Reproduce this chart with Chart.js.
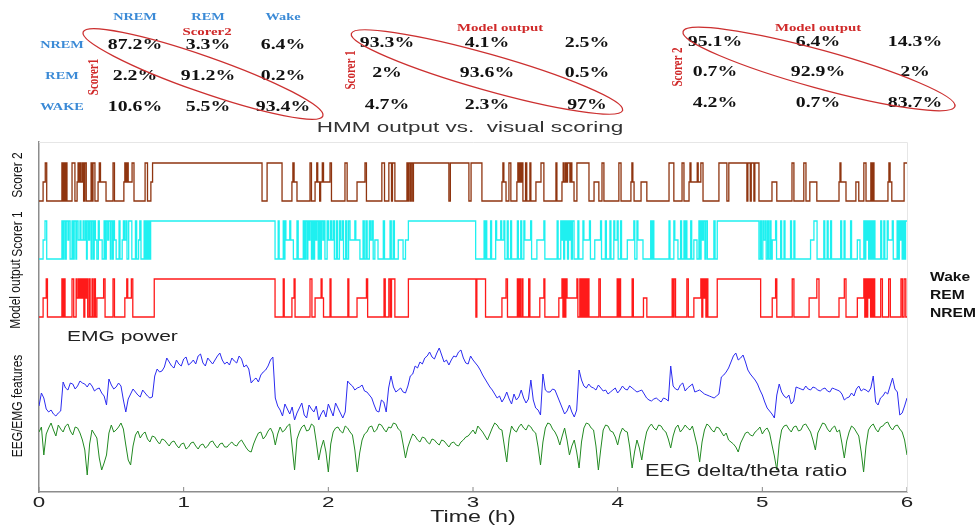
<!DOCTYPE html>
<html lang="en">
<head>
<meta charset="UTF-8">
<title>HMM output vs. visual scoring</title>
<script src="https://cdn.jsdelivr.net/npm/chart.js@4.4.1/dist/chart.umd.min.js"></script>
<style>
  body { margin: 0; background: #fff; }
  #wrap { width: 979px; height: 525px; }
</style>
</head>
<body>
<div id="wrap"><canvas id="myChart"></canvas></div>
<script>
// x axis ticks (hours)
const hourTicks = [0, 1, 2, 3, 4, 5, 6];
const stageNames = ['NREM', 'REM', 'Wake'];

// agreement tables, %  (rows NREM/REM/Wake)
const scorer1VsScorer2 = [[87.2, 3.3, 6.4], [2.2, 91.2, 0.2], [10.6, 5.5, 93.4]];
const scorer1VsModel = [[93.3, 4.1, 2.5], [2, 93.6, 0.5], [4.7, 2.3, 97]];
const scorer2VsModel = [[95.1, 6.4, 14.3], [0.7, 92.9, 2], [4.2, 0.7, 83.7]];

// hypnograms: [start minute, stage]  0 = NREM, 1 = REM, 2 = Wake
const scorer2Stages = [
  [0,0],[1.7,1],[2.6,2],[3.2,0],[9.5,2],[10.0,0],[10.3,2],[10.8,0],[11.1,2],[11.6,0],
  [13.7,2],[14.9,0],[15.8,1],[16.2,2],[16.6,1],[17.1,2],[17.5,1],[18.1,2],[18.5,0],[19.0,2],[19.6,0],
  [21.6,2],[22.1,0],[22.4,2],[23.2,0],[24.5,1],[25.0,2],[25.5,1],[27.8,0],[30.7,2],[31.3,0],
  [35.2,1],[35.6,2],[36.0,1],[36.5,2],[37.0,1],[38.6,2],[39.4,0],[44.0,2],[45.0,0],[46.4,1],[47.1,2],
  [92.5,0],[94.6,2],[100.8,0],[104.9,1],[105.3,2],[105.8,1],[107.0,0],[112.4,2],[113.0,0],
  [114.5,1],[115.2,2],[115.6,1],[116.4,0],[116.8,1],[117.5,2],[118.0,1],[120.7,2],[121.3,0],
  [126.9,2],[127.8,0],[131.9,1],[135.2,2],[135.8,0],[142.2,2],[143.3,0],[145.1,2],[146.2,0],[146.6,2],[147.6,0],
  [152.6,2],[153.0,0],[153.4,2],[154.0,0],[154.4,2],[155.0,0],[155.3,2],
  [170.0,0],[170.6,2],[178.3,0],[179.2,2],[183.7,0],
  [192.0,1],[192.4,2],[192.8,1],[193.7,0],[194.9,2],[195.7,0],
  [198.2,1],[198.6,2],[199.0,1],[199.4,2],[199.8,1],[200.3,2],[200.7,0],[201.8,2],[202.3,0],[203.6,2],[204.0,0],
  [206.1,1],[208.2,2],[209.4,0],[214.4,2],[214.8,0],
  [216.9,1],[217.4,2],[217.8,1],[218.4,2],[218.8,1],[219.2,2],[220.2,1],[220.6,2],[221.0,1],[221.9,0],
  [223.1,2],[228.1,0],[230.2,1],[232.2,0],[233.5,2],[234.3,0],[240.5,2],[241.4,0],
  [245.5,1],[245.9,2],[246.3,1],[246.8,0],[249.7,1],[252.1,0],[261.3,2],[263.3,0],
  [266.7,2],[267.5,0],[269.6,1],[270.0,2],[270.4,1],[273.0,2],[273.4,1],[274.5,2],[275.4,0],
  [282.0,2],[285.3,0],[286.1,2],[293.6,0],[294.0,2],[295.0,0],[295.4,2],[296.5,0],[296.9,2],[298.6,0],
  [304.0,1],[306.0,0],[312.3,2],[313.1,0],[317.2,2],[318.1,0],[319.7,1],[322.6,0],
  [331.8,1],[332.2,2],[332.6,1],[334.7,0],[338.8,1],[340.0,0],[342.1,2],[343.0,0],
  [345.0,2],[345.5,0],[345.8,2],[346.3,0],[352.1,1],[352.5,2],[353.0,1],[353.7,0],[358.8,2],[360,2]
];

const scorer1Stages = [
  [0,0],[1.7,1],[2.5,2],[3.2,0],[9.5,2],[10.0,0],[10.4,2],[11.0,0],[11.3,2],[12.0,1],[12.3,2],[12.9,0],
  [13.7,2],[14.2,0],[14.6,2],[15.3,0],[15.6,2],[16.2,1],[17.0,2],[17.4,1],[18.3,2],[18.7,1],[19.3,2],
  [19.7,0],[20.0,2],[20.6,1],[21.0,2],[21.6,0],[22.0,2],[22.6,0],[22.9,2],[23.4,1],
  [24.0,0],[24.6,2],[25.0,1],[26.2,0],[27.0,2],[27.5,0],[27.9,2],[28.5,1],[28.9,2],[29.6,0],[29.9,2],[30.5,0],[30.8,2],[31.3,1],
  [32.0,0],[33.2,2],[33.6,0],[34.5,1],[35.0,2],[35.4,1],[36.0,2],[36.5,0],[37.2,2],[38.5,0],[40.0,2],[40.5,0],[41.3,1],[41.8,2],[42.3,0],
  [43.6,2],[44.1,0],[44.5,2],[45.0,0],[45.4,2],[45.9,0],[46.3,2],
  [97.9,0],[99.2,2],[99.6,0],[101.3,2],[101.7,0],[102.0,2],[102.4,1],[104.0,2],[104.4,1],[105.5,0],[107.0,2],[107.5,0],
  [109.6,2],[110.1,0],[110.5,2],[111.1,0],[111.5,2],[112.0,1],[112.4,2],[113.0,0],[113.3,2],[113.8,0],[114.3,2],[114.8,1],
  [115.2,2],[115.8,0],[116.2,2],[116.7,0],[117.1,2],[117.7,1],[118.1,2],[118.6,0],
  [119.5,2],[120.0,1],[120.8,2],[121.3,1],[122.0,2],[122.5,0],[123.3,2],[123.8,0],[124.6,2],[125.1,1],[125.8,2],[126.3,0],
  [127.2,2],[127.7,0],[128.4,2],[129.0,1],[131.0,2],[131.4,1],[133.1,0],[134.4,2],[134.9,0],[135.6,2],[136.1,0],
  [137.0,2],[137.5,1],[138.1,2],[138.6,0],[139.3,1],[140.6,0],[142.8,2],[143.3,0],[145.6,2],[146.1,0],[146.9,2],[147.4,0],
  [149.0,1],[151.0,0],[152.0,1],[153.2,2],
  [181.1,0],[184.6,2],[185.0,0],[185.3,2],[185.7,0],[187.3,2],[187.7,0],[189.4,2],[189.8,1],[191.5,2],[191.9,1],
  [192.8,2],[193.2,0],[194.2,2],[194.6,0],[195.6,2],[196.0,0],[198.4,2],[198.8,0],[199.8,2],[200.2,0],[201.1,2],[201.5,1],
  [203.9,2],[204.3,0],[206.5,1],[209.4,2],[209.8,0],[214.9,2],[215.3,0],
  [216.4,2],[216.8,1],[217.2,2],[217.6,0],[218.0,2],[218.4,1],[218.8,2],[219.2,0],[219.6,2],[220.0,1],[220.4,2],[220.8,0],[221.2,2],[221.9,0],
  [223.5,2],[223.9,0],[225.6,2],[226.0,1],[228.3,2],[228.7,0],[230.5,1],[232.9,2],[233.3,0],[234.9,2],[235.3,0],
  [236.8,2],[237.2,0],[238.4,2],[238.8,1],[239.8,2],[240.2,0],[241.2,2],[241.6,0],[244.0,1],[246.7,2],[247.1,0],
  [248.0,2],[248.4,1],[250.5,0],[253.7,2],[254.1,0],[254.5,2],[255.0,0],[261.3,2],[261.7,0],[263.3,2],[263.7,1],[265.0,0],
  [266.1,2],[266.5,0],[267.5,2],[267.9,0],[268.3,2],[268.7,0],[270.3,2],[270.7,0],[271.6,1],[272.9,0],
  [273.7,2],[274.1,0],[274.6,2],[275.1,1],[275.6,2],[276.2,0],[276.6,2],[277.2,0],[279.9,2],[280.4,0],[281.3,2],
  [298.6,0],[299.2,2],[299.6,0],[300.2,2],[300.6,1],[301.2,2],[301.6,0],[302.2,2],[302.6,0],[303.2,2],[303.6,0],[304.1,1],
  [305.5,2],[305.9,0],[307.6,2],[308.0,0],[309.0,2],[309.4,0],[311.7,2],[312.1,0],[313.1,2],[313.5,0],[320.0,1],[321.4,2],[322.7,0],
  [325.5,2],[325.9,0],[326.9,2],[327.3,0],[328.3,2],[328.7,0],[332.5,2],[332.9,0],[333.9,2],[334.3,0],[336.6,2],[337.0,0],
  [339.4,1],[340.5,0],[342.1,2],[342.5,0],[342.9,2],[343.3,1],[343.7,2],[344.1,0],[344.5,2],[344.9,0],[345.3,2],[345.8,0],
  [346.3,2],[346.7,0],[349.1,2],[349.5,0],[350.4,2],[350.8,0],[351.8,2],[352.2,1],[353.9,2],[354.3,0],
  [355.9,2],[356.3,0],[356.8,2],[357.2,1],[357.6,2],[358.0,0],[358.5,2],[358.9,0],[359.4,2],[360,2]
];

const modelStages = [
  [0,0],[1.7,1],[3.0,2],[3.5,0],[9.5,2],[10.0,0],[10.3,2],[10.8,0],
  [13.7,2],[14.4,0],[15.4,2],[15.8,1],[16.4,2],[16.8,1],[17.3,2],[17.7,1],[18.2,2],[18.6,0],[19.0,2],[19.4,1],
  [19.8,2],[20.2,0],[20.8,2],[21.2,0],[22.0,2],[22.4,0],[23.0,2],[23.4,0],
  [24.0,1],[26.8,2],[27.4,0],[30.7,2],[31.3,0],[35.6,1],[36.4,2],[36.8,1],[38.3,2],[38.9,0],[47.8,2],
  [97.9,0],[101.3,2],[101.7,0],[104.9,1],[105.8,2],[106.2,0],[112.4,2],[113.2,0],[114.5,1],[117.0,2],[117.4,1],[118.0,0],
  [120.7,2],[121.1,0],[128.1,2],[128.5,0],[131.9,1],[135.8,2],[136.3,0],[143.1,2],[143.6,0],[145.1,2],[145.7,0],
  [146.2,2],[147.6,0],[153.2,2],
  [181.2,0],[181.6,2],[185.2,0],[192.0,1],[193.7,2],[194.3,0],[198.4,2],[198.8,0],[199.3,2],[199.7,0],[200.3,2],[200.7,0],
  [203.1,2],[203.6,0],[207.7,1],[209.4,2],[209.8,0],[215.6,1],[216.9,2],[217.3,0],[217.7,2],[218.1,0],[218.5,2],[219.0,1],
  [223.1,2],[223.5,0],[224.3,2],[224.8,0],[225.3,2],[225.7,0],[226.1,2],[226.5,0],[226.9,2],[227.3,0],[227.7,2],[228.1,0],
  [232.2,2],[232.8,0],[239.8,2],[240.3,0],[240.7,2],[241.2,0],[246.0,2],[246.5,0],[250.7,1],[252.1,0],
  [262.6,2],[263.0,0],[263.4,2],[264.0,0],[268.7,2],[269.3,0],[271.6,1],[274.5,2],[274.9,0],[275.3,2],[275.7,1],
  [276.2,2],[276.6,0],[277.0,2],[277.4,0],[281.3,2],
  [299.3,0],[304.1,1],[305.5,2],[306.0,0],[312.4,2],[313.1,0],[319.4,1],[322.6,2],[323.5,0],[331.8,1],[334.0,2],[334.7,0],
  [339.4,1],[342.1,2],[342.5,0],[342.9,2],[343.3,0],[343.7,2],[344.1,1],[344.5,2],[344.9,0],[345.3,2],[345.7,0],
  [346.1,2],[346.6,0],[349.1,2],[349.8,0],[352.4,2],[353.1,0],[357.5,2],[358.1,0],[358.8,2],[359.5,0],[360,0]
];

// EEG/EMG features, one sample per minute (0..360 min), arbitrary units
const featureStepMin = 1;
const emgPower = [
  8.6, 9.9, 9.4, 8.3, 8.0, 8.2, 7.8, 7.6, 7.9, 8.1, 11.0, 10.4, 10.2, 10.9, 10.8, 10.3, 10.6, 11.1, 10.9, 10.8,
  10.5, 10.9, 10.6, 10.1, 10.3, 10.4, 9.9, 9.6, 8.7, 11.3, 10.7, 10.3, 10.5, 10.9, 10.6, 9.2, 8.0, 9.3, 9.8, 10.3,
  10.0, 9.7, 9.5, 10.2, 9.9, 9.6, 9.4, 9.5, 11.6, 12.3, 12.0, 12.1, 12.5, 13.4, 13.0, 12.6, 12.4, 13.2, 12.8, 12.6,
  13.3, 13.5, 12.7, 12.9, 13.2, 12.8, 13.6, 13.8, 12.9, 12.6, 13.4, 13.1, 12.8, 13.2, 13.6, 13.9, 13.2, 12.8, 13.0, 12.7,
  13.4, 13.1, 12.9, 13.6, 13.3, 12.5, 12.7, 12.3, 10.9, 11.2, 11.4, 11.0, 11.7, 12.0, 12.2, 12.6, 13.2, 13.5, 9.4, 8.6,
  8.2, 7.6, 8.8, 8.3, 7.8, 8.5, 7.2, 7.9, 8.4, 8.9, 7.7, 7.4, 8.7, 8.3, 8.0, 8.6, 7.2, 7.8, 8.2, 7.5,
  8.8, 8.2, 7.6, 8.9, 8.4, 7.9, 7.4, 8.0, 11.1, 10.8, 10.6, 10.2, 10.4, 10.5, 10.7, 10.1, 10.0, 9.7, 9.4, 8.7,
  8.1, 8.0, 9.2, 9.0, 8.0, 10.4, 11.6, 10.5, 10.0, 10.2, 10.4, 10.0, 9.9, 10.6, 11.6, 11.8, 12.6, 12.4, 13.0, 12.8,
  13.4, 13.6, 14.0, 13.5, 13.3, 13.9, 14.4, 13.7, 13.0, 13.2, 12.7, 13.2, 13.6, 13.5, 14.0, 14.2, 13.4, 12.9, 12.8, 13.6,
  13.2, 12.9, 12.6, 12.2, 11.7, 11.3, 10.9, 10.5, 10.2, 9.8, 9.4, 9.6, 9.0, 9.4, 10.0, 9.3, 8.8, 9.8, 9.2, 9.5,
  10.2, 9.4, 8.9, 9.3, 11.2, 9.2, 8.4, 8.2, 7.7, 11.8, 10.2, 10.0, 10.0, 10.3, 10.2, 9.6, 9.0, 8.4, 7.8, 8.1,
  8.7, 8.0, 7.5, 8.2, 12.2, 11.2, 10.6, 10.4, 10.8, 10.5, 10.4, 10.2, 10.7, 10.4, 10.1, 10.2, 9.8, 10.0, 10.2, 10.4,
  9.9, 10.2, 10.6, 10.3, 10.2, 10.6, 10.4, 10.2, 10.0, 10.1, 10.2, 9.8, 9.4, 9.2, 9.1, 9.3, 9.4, 9.2, 9.0, 9.4,
  9.3, 9.1, 12.6, 10.6, 10.3, 10.2, 10.7, 10.9, 10.1, 10.4, 10.6, 10.8, 10.0, 10.1, 10.2, 10.0, 9.8, 9.7, 9.6, 9.5,
  9.4, 9.6, 9.8, 11.5, 11.7, 12.0, 12.4, 13.0, 13.6, 13.9, 13.2, 13.4, 13.7, 13.0, 12.2, 11.8, 11.5, 11.2, 10.8, 10.2,
  9.7, 9.0, 8.4, 8.1, 7.8, 7.4, 9.7, 10.8, 10.0, 9.6, 9.4, 9.7, 8.8, 9.1, 10.5, 10.4, 10.3, 10.2, 10.6, 10.3,
  10.2, 10.5, 10.4, 10.2, 10.1, 10.3, 10.4, 10.1, 10.0, 10.4, 10.3, 10.2, 10.1, 9.8, 9.2, 9.4, 9.5, 9.9, 9.6, 10.3,
  10.6, 10.1, 10.3, 10.2, 10.0, 10.4, 11.6, 9.0, 8.7, 9.4, 9.6, 10.0, 9.8, 10.6, 11.4, 10.3, 10.0, 7.7, 7.9, 8.6,
  9.4
];
const eegDeltaTheta = [
  6.0, 6.5, 3.7, 5.8, 6.4, 6.9, 6.2, 5.6, 6.7, 6.3, 6.0, 6.6, 6.8, 6.1, 5.7, 6.5, 6.4, 5.9, 5.2, 4.2,
  1.7, 4.8, 6.2, 5.8, 5.4, 3.4, 2.2, 2.9, 3.7, 5.9, 6.7, 6.0, 6.2, 6.5, 6.9, 6.3, 4.7, 3.2, 2.7, 4.6,
  5.7, 6.1, 5.4, 5.8, 6.0, 5.3, 5.0, 5.6, 5.5, 5.1, 4.8, 5.3, 5.2, 4.9, 4.6, 5.0, 5.1, 4.7, 4.4, 4.8,
  4.9, 4.3, 4.5, 4.9, 5.0, 4.6, 4.3, 4.7, 4.8, 4.4, 4.6, 5.0, 5.1, 4.7, 4.4, 4.8, 4.9, 4.5, 4.5, 4.8,
  5.0, 4.7, 4.6, 5.0, 5.2, 4.8, 4.4, 4.1, 4.0, 4.8, 5.4, 5.9, 6.0, 5.3, 5.6, 6.1, 6.4, 5.9, 4.7, 5.8,
  6.5, 6.0, 6.2, 6.6, 6.8, 4.5, 2.2, 5.3, 6.0, 6.5, 6.7, 6.1, 6.2, 6.8, 6.6, 5.0, 3.2, 4.4, 5.2, 4.0,
  2.0, 4.8, 6.0, 6.4, 6.5, 6.1, 5.9, 6.6, 6.4, 6.0, 5.7, 4.2, 2.0, 3.9, 5.2, 5.8, 6.0, 6.5, 6.6, 6.0,
  6.2, 6.8, 6.7, 6.3, 6.0, 6.5, 6.4, 6.9, 6.8, 6.3, 6.1, 4.8, 3.4, 4.5, 5.2, 5.8, 5.6, 5.2, 5.0, 5.5,
  5.4, 5.0, 4.8, 5.3, 5.2, 4.9, 4.7, 5.2, 5.1, 4.8, 4.5, 4.9, 5.0, 4.7, 4.6, 5.0, 5.2, 5.5, 5.6, 5.9,
  6.2, 5.8, 6.6, 6.3, 6.0, 5.6, 5.2, 5.8, 6.4, 6.9, 6.7, 6.3, 6.2, 4.6, 3.0, 5.4, 6.6, 6.2, 6.0, 6.5,
  6.8, 6.4, 6.2, 6.7, 6.5, 6.1, 5.9, 4.5, 2.7, 5.0, 6.4, 6.9, 6.8, 6.3, 6.0, 5.5, 4.7, 5.6, 6.4, 5.2,
  3.7, 4.6, 5.2, 4.0, 2.4, 5.0, 6.4, 6.9, 6.8, 6.4, 6.2, 4.6, 2.2, 4.3, 6.2, 6.7, 6.6, 6.1, 6.0, 5.5,
  4.7, 5.8, 6.4, 6.1, 6.0, 4.5, 2.4, 4.0, 5.2, 4.4, 3.2, 4.8, 6.0, 6.5, 6.8, 6.4, 6.2, 6.7, 6.6, 6.2,
  6.0, 5.3, 4.4, 5.6, 6.4, 6.7, 6.0, 6.3, 6.7, 6.4, 6.2, 6.6, 5.6, 4.6, 3.0, 5.0, 6.2, 6.8, 6.6, 6.2,
  6.0, 6.5, 6.4, 6.0, 5.6, 5.9, 5.2, 5.0, 4.8, 4.5, 4.0, 4.9, 5.4, 5.9, 6.0, 5.7, 5.6, 6.0, 6.2, 6.5,
  5.8, 6.2, 6.4, 5.9, 4.7, 3.6, 2.2, 4.8, 6.2, 6.6, 6.7, 6.3, 6.0, 6.5, 6.6, 6.1, 6.2, 6.7, 6.8, 6.4,
  6.0, 5.2, 4.2, 5.9, 6.4, 6.9, 6.8, 6.3, 6.0, 6.4, 6.6, 6.0, 6.2, 4.9, 3.4, 5.1, 6.0, 6.6, 6.4, 6.0,
  5.6, 4.0, 2.0, 4.6, 6.2, 6.6, 6.8, 6.3, 6.0, 6.5, 6.6, 6.9, 7.0, 6.5, 6.2, 6.6, 6.7, 6.3, 6.0, 5.2,
  3.7
];

// vertical placement of the three hypnogram tracks
const stageStep = 1.9;
const trackBase = { scorer2: 29.1, scorer1: 23.3, model: 17.5 };

function hypnogram(list, base) {
  return list.map(([m, s]) => ({ x: m / 60, y: base + s * stageStep }));
}
function feature(values) {
  return values.map((v, i) => ({ x: i * featureStepMin / 60, y: v }));
}
function pct(v) { return v + '%'; }

// stretched text helper (the figure is wide)
function drawText(ctx, str, x, y, font, color, sx, align, rotated) {
  ctx.save();
  ctx.translate(x, y);
  if (rotated) { ctx.rotate(-Math.PI / 2); ctx.scale(1, sx); }
  else ctx.scale(sx, 1);
  ctx.font = font;
  ctx.fillStyle = color;
  ctx.textAlign = align || 'center';
  ctx.textBaseline = 'middle';
  ctx.fillText(str, 0, 0);
  ctx.restore();
}

const tables = [
  { data: scorer1VsScorer2, cols: [135, 208, 283], rows: [45, 76, 107],
    ellipse: [203, 74, 127, 18, 19.3], top: 'Scorer2', topPos: [207, 32], side: 'Scorer1', sidePos: [94, 77], headers: true },
  { data: scorer1VsModel, cols: [387, 487, 587], rows: [43, 73, 105],
    ellipse: [487, 72, 141, 18, 15.8], top: 'Model output', topPos: [500, 28], side: 'Scorer 1', sidePos: [351, 70] },
  { data: scorer2VsModel, cols: [715, 818, 915], rows: [42, 72, 103],
    ellipse: [819, 69, 141, 19, 15.4], top: 'Model output', topPos: [818, 28], side: 'Scorer 2', sidePos: [678, 67] }
];

const figureText = {
  id: 'figureText',
  afterDraw(chart) {
    const ctx = chart.ctx;
    const xs = chart.scales.x;
    const area = chart.chartArea;
    const blue = '#3b8ad6', red = '#d02a2a';

    // agreement tables
    tables.forEach(t => {
      t.data.forEach((row, r) => row.forEach((v, c) => {
        drawText(ctx, pct(v), t.cols[c], t.rows[r], 'bold 15px "Liberation Serif"', '#111', 1.32);
      }));
      drawText(ctx, t.top, t.topPos[0], t.topPos[1], 'bold 11px "Liberation Serif"', red, 1.35);
      drawText(ctx, t.side, t.sidePos[0], t.sidePos[1], 'bold 11px "Liberation Serif"', red, 1.3, 'center', true);
      const [cx, cy, rx, ry, deg] = t.ellipse;
      ctx.save();
      ctx.strokeStyle = '#cc3030';
      ctx.lineWidth = 1.3;
      ctx.beginPath();
      ctx.ellipse(cx, cy, rx, ry, deg * Math.PI / 180, 0, Math.PI * 2);
      ctx.stroke();
      ctx.restore();
      if (t.headers) {
        const colNames = ['NREM', 'REM', 'Wake'];
        const rowNames = ['NREM', 'REM', 'WAKE'];
        colNames.forEach((n, i) => drawText(ctx, n, t.cols[i], 17, 'bold 11px "Liberation Serif"', blue, 1.3));
        rowNames.forEach((n, i) => drawText(ctx, n, 62, t.rows[i], 'bold 11px "Liberation Serif"', blue, 1.3));
      }
    });

    drawText(ctx, 'HMM output vs.  visual scoring', 470, 128, '15px "Liberation Sans"', '#333', 1.5);

    // track names on the left
    const sans = '12px "Liberation Sans"';
    drawText(ctx, 'Scorer 2', 18, 175, sans, '#111', 1.25, 'center', true);
    drawText(ctx, 'Scorer 1', 18, 234, sans, '#111', 1.25, 'center', true);
    drawText(ctx, 'Model output', 16, 294, sans, '#111', 1.25, 'center', true);
    drawText(ctx, 'EEG/EMG features', 18, 406, sans, '#111', 1.25, 'center', true);

    // stage legend on the right
    stageNames.slice().reverse().forEach((n, i) => {
      drawText(ctx, n, 930, [278, 296, 314][i], 'bold 12px "Liberation Sans"', '#111', 1.3, 'left');
    });

    drawText(ctx, 'EMG power', 67, 337, '15px "Liberation Sans"', '#222', 1.4, 'left');
    drawText(ctx, 'EEG delta/theta ratio', 645, 472, '16px "Liberation Sans"', '#222', 1.36, 'left');

    // x ticks (inward) and labels
    ctx.save();
    ctx.strokeStyle = '#888';
    ctx.lineWidth = 1;
    hourTicks.forEach(h => {
      const px = xs.getPixelForValue(h);
      ctx.beginPath();
      ctx.moveTo(px, area.bottom);
      ctx.lineTo(px, area.bottom - 5);
      ctx.stroke();
      drawText(ctx, String(h), px, 503, '14px "Liberation Sans"', '#222', 1.6);
    });
    // light frame on the right/top
    ctx.strokeStyle = '#e6e6e6';
    ctx.beginPath();
    ctx.moveTo(area.left, area.top + 0.5);
    ctx.lineTo(area.right + 0.5, area.top + 0.5);
    ctx.lineTo(area.right + 0.5, area.bottom);
    ctx.stroke();
    ctx.restore();
    drawText(ctx, 'Time (h)', (area.left + area.right) / 2, 518, '16px "Liberation Sans"', '#222', 1.45);
  }
};

const ctx = document.getElementById('myChart').getContext('2d');
new Chart(ctx, {
  type: 'line',
  data: {
    datasets: [
      { label: 'Scorer 2', data: hypnogram(scorer2Stages, trackBase.scorer2), borderColor: '#8f3510', stepped: true },
      { label: 'Scorer 1', data: hypnogram(scorer1Stages, trackBase.scorer1), borderColor: '#1ff0f0', stepped: true },
      { label: 'Model output', data: hypnogram(modelStages, trackBase.model), borderColor: '#ff1a1a', stepped: true },
      { label: 'EMG power', data: feature(emgPower), borderColor: '#2b2bf0', borderWidth: 1 },
      { label: 'EEG delta/theta ratio', data: feature(eegDeltaTheta), borderColor: '#228a22', borderWidth: 1 }
    ]
  },
  options: {
    responsive: true,
    maintainAspectRatio: false,
    animation: false,
    parsing: false,
    layout: { padding: { top: 142, right: 72, left: 0, bottom: 0 } },
    elements: {
      point: { radius: 0 },
      line: { borderWidth: 1.3, tension: 0, fill: false }
    },
    plugins: { legend: { display: false }, tooltip: { enabled: false } },
    scales: {
      x: {
        type: 'linear', min: 0, max: 6,
        ticks: { display: false, stepSize: 1 },
        grid: { display: false },
        border: { display: true, color: '#8c8c8c', width: 1.5 },
        afterFit: s => { s.height = 33; }
      },
      y: {
        min: 0, max: 35,
        ticks: { display: false },
        grid: { display: false },
        border: { display: true, color: '#8c8c8c', width: 1.5 },
        afterFit: s => { s.width = 39; }
      }
    }
  },
  plugins: [figureText]
});
</script>
</body>
</html>
